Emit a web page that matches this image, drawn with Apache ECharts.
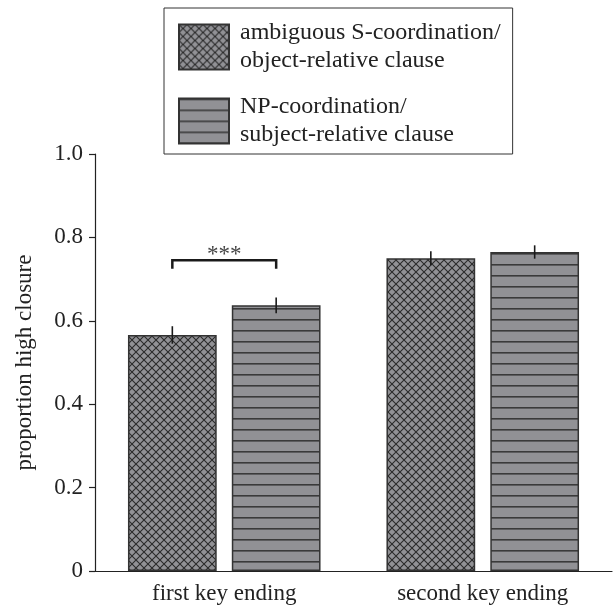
<!DOCTYPE html>
<html><head><meta charset="utf-8">
<script src="https://cdn.jsdelivr.net/npm/echarts@6/dist/echarts.min.js"></script>
<style>html,body{margin:0;padding:0;background:#fff}#c{width:614px;height:607px}</style>
</head><body><div id="c"></div>
<script>
const categories = ['first key ending', 'second key ending'];
const seriesNames = ['ambiguous S-coordination/\nobject-relative clause', 'NP-coordination/\nsubject-relative clause'];
const ambiguousValues = [0.566, 0.750];
const npValues = [0.637, 0.765];
const ambiguousErr = [0.021, 0.017];
const npErr = [0.019, 0.016];
const yTicks = [0, 0.2, 0.4, 0.6, 0.8, 1.0];
const sigCategory = 0, sigLevel = 0.745, sigDrop = 0.02, sigLabel = '***';

const FONT = '"Liberation Serif", "DejaVu Serif", serif';
const FILL = '#919195', INK = '#2b2b2b';
const BAR_CAT_GAP = 0.255, BAR_GAP = 0.17;

function crossPattern() {
  const s = 8, c = document.createElement('canvas'); c.width = s; c.height = s;
  const g = c.getContext('2d');
  g.fillStyle = FILL; g.fillRect(0, 0, s, s);
  g.strokeStyle = INK; g.lineWidth = 1.1;
  g.beginPath(); g.moveTo(-1, -1); g.lineTo(s + 1, s + 1); g.moveTo(s + 1, -1); g.lineTo(-1, s + 1); g.stroke();
  return c;
}
function stripePattern() {
  const w = 10, h = 11, c = document.createElement('canvas'); c.width = w; c.height = h;
  const g = c.getContext('2d');
  g.fillStyle = FILL; g.fillRect(0, 0, w, h);
  g.fillStyle = '#3a3a3a'; g.fillRect(0, 0, w, 1.6);
  return c;
}

function barOffset(api) {
  const cw = api.size([1, 0])[0];
  const group = cw * (1 - BAR_CAT_GAP);
  const bw = group / (2 + BAR_GAP);
  return (bw + bw * BAR_GAP) / 2;
}

const errData = [];
ambiguousValues.forEach((v, i) => errData.push([i, v, ambiguousErr[i], -1]));
npValues.forEach((v, i) => errData.push([i, v, npErr[i], 1]));

const chart = echarts.init(document.getElementById('c'));
chart.setOption({
  animation: false,
  grid: { left: 95, right: 2, top: 154, bottom: 36 },
  legend: {
    left: 164, top: 8, orient: 'vertical',
    data: seriesNames.map(n => ({ name: n, icon: 'rect' })),
    itemWidth: 50, itemHeight: 45, itemGap: 18,
    padding: [11, 12, 5, 14],
    borderColor: '#333', borderWidth: 1,
    selectedMode: false,
    textStyle: { fontFamily: FONT, fontSize: 24, color: '#222', lineHeight: 28, padding: [0, 0, 0, 6] }
  },
  xAxis: {
    type: 'category', data: categories,
    axisLine: { lineStyle: { color: '#222', width: 1.2 } },
    axisTick: { alignWithLabel: true, length: 5, lineStyle: { color: '#222', width: 1.5 } },
    axisLabel: { fontFamily: FONT, fontSize: 23, color: '#222', margin: 11 }
  },
  yAxis: {
    type: 'value', min: 0, max: 1, interval: 0.2,
    name: 'proportion high closure', nameLocation: 'middle', nameGap: 59,
    nameTextStyle: { fontFamily: FONT, fontSize: 23, color: '#222' },
    axisLine: { show: true, lineStyle: { color: '#222', width: 1.2 } },
    axisTick: { show: true, length: 6, lineStyle: { color: '#222', width: 1.2 } },
    splitLine: { show: false },
    axisLabel: { fontFamily: FONT, fontSize: 23, color: '#222', margin: 12,
      formatter: v => (v === 0 ? '0' : v.toFixed(1)) }
  },
  series: [
    { name: seriesNames[0], type: 'bar', data: ambiguousValues,
      barCategoryGap: (BAR_CAT_GAP * 100) + '%', barGap: (BAR_GAP * 100) + '%',
      itemStyle: { color: { image: crossPattern(), repeat: 'repeat' }, borderColor: '#333', borderWidth: 1.5 } },
    { name: seriesNames[1], type: 'bar', data: npValues,
      barCategoryGap: (BAR_CAT_GAP * 100) + '%', barGap: (BAR_GAP * 100) + '%',
      itemStyle: { color: { image: stripePattern(), repeat: 'repeat' }, borderColor: '#333', borderWidth: 1.5 } },
    { type: 'custom', data: errData, z: 10,
      renderItem: (params, api) => {
        const off = barOffset(api) * api.value(3);
        const m = api.value(1), e = api.value(2);
        const p1 = api.coord([api.value(0), m + e]), p2 = api.coord([api.value(0), m - e]);
        return { type: 'line', shape: { x1: p1[0] + off, y1: p1[1], x2: p2[0] + off, y2: p2[1] },
          style: { stroke: '#1a1a1a', lineWidth: 1.6 } };
      } },
    { type: 'custom', data: [[sigCategory, sigLevel, sigDrop]], z: 10,
      renderItem: (params, api) => {
        const off = barOffset(api);
        const top = api.coord([api.value(0), api.value(1)]);
        const bot = api.coord([api.value(0), api.value(1) - api.value(2)]);
        const xl = top[0] - off, xr = top[0] + off;
        return { type: 'group', children: [
          { type: 'polyline', shape: { points: [[xl, bot[1]], [xl, top[1]], [xr, top[1]], [xr, bot[1]]] },
            style: { stroke: '#1a1a1a', lineWidth: 2.5, fill: null } },
          { type: 'text', style: { text: sigLabel, x: top[0], y: top[1] - 5, align: 'center', verticalAlign: 'middle',
            font: '23px ' + FONT, fill: '#444' } }
        ] };
      } }
  ]
});
</script></body></html>
